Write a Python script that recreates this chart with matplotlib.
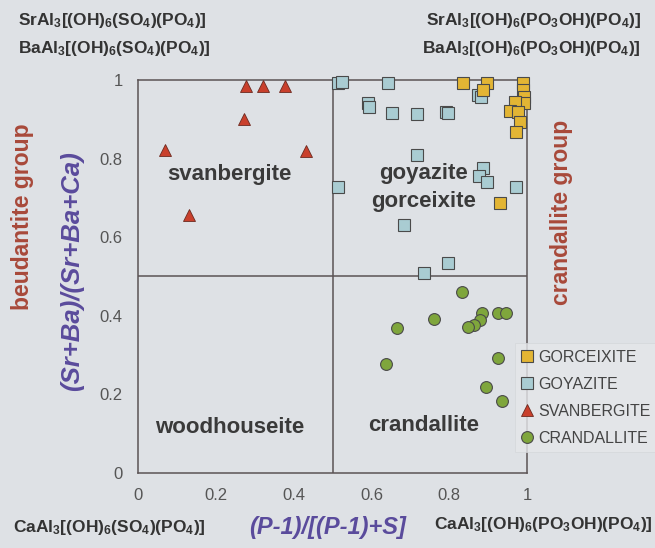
import matplotlib
matplotlib.use('Agg')
import matplotlib.pyplot as plt

plt.rcParams['font.family'] = ['Liberation Sans', 'DejaVu Sans']
plt.rcParams['mathtext.fontset'] = 'custom'
plt.rcParams['mathtext.rm'] = 'Liberation Sans:bold'
plt.rcParams['mathtext.bf'] = 'Liberation Sans:bold'
plt.rcParams['mathtext.default'] = 'bf'

# data: x = (P-1)/[(P-1)+S], y = (Sr+Ba)/(Sr+Ba+Ca)
gorc_x = [0.835, 0.897, 0.887, 0.990, 0.990, 0.992, 0.992, 0.969, 0.956, 0.977, 0.982, 0.972, 0.931]
gorc_y = [0.992, 0.992, 0.975, 0.992, 0.975, 0.957, 0.941, 0.944, 0.921, 0.919, 0.893, 0.868, 0.687]

goy_x = [0.514, 0.524, 0.643, 0.591, 0.594, 0.653, 0.717, 0.792, 0.797, 0.874, 0.882,
         0.717, 0.887, 0.877, 0.897, 0.972, 0.514, 0.684, 0.797, 0.735]
goy_y = [0.992, 0.995, 0.992, 0.941, 0.931, 0.916, 0.913, 0.918, 0.916, 0.962, 0.957,
         0.809, 0.776, 0.756, 0.740, 0.728, 0.728, 0.631, 0.534, 0.509]

svan_x = [0.278, 0.321, 0.378, 0.272, 0.069, 0.432, 0.131]
svan_y = [0.985, 0.985, 0.985, 0.900, 0.822, 0.820, 0.657]

cran_x = [0.833, 0.761, 0.666, 0.884, 0.879, 0.864, 0.848, 0.925, 0.946, 0.638, 0.925, 0.895, 0.936]
cran_y = [0.461, 0.392, 0.369, 0.407, 0.389, 0.377, 0.372, 0.407, 0.407, 0.277, 0.293, 0.219, 0.183]

ticks = [0, 0.2, 0.4, 0.6, 0.8, 1]
tick_labels = ['0', '0.2', '0.4', '0.6', '0.8', '1']

bg = '#dee1e5'
line_col = '#5b5355'
edge = '#4a4a4a'

fig = plt.figure(figsize=(6.55, 5.48), dpi=100, facecolor=bg)
ax = fig.add_axes([0.2107, 0.1369, 0.5939, 0.7171])
ax.set_facecolor(bg)

ax.plot(gorc_x, gorc_y, 's', ms=8, mfc='#e3b534', mec=edge, mew=0.8,
        label='GORCEIXITE', clip_on=False, zorder=4)
ax.plot(goy_x, goy_y, 's', ms=8, mfc='#a9ccd2', mec=edge, mew=0.8,
        label='GOYAZITE', clip_on=False, zorder=3)
ax.plot(svan_x, svan_y, '^', ms=9, mfc='#c9402c', mec='#6b2a20', mew=0.6,
        label='SVANBERGITE', clip_on=False, zorder=3)
ax.plot(cran_x, cran_y, 'o', ms=8.5, mfc='#7fa63c', mec=edge, mew=0.8,
        label='CRANDALLITE', clip_on=False, zorder=3)

ax.axvline(0.5, color=line_col, lw=1.1, zorder=1)
ax.axhline(0.5, color=line_col, lw=1.1, zorder=1)

ax.set_xlim(0, 1)
ax.set_ylim(0, 1)
ax.set_xticks(ticks)
ax.set_xticklabels(tick_labels)
ax.set_yticks(ticks)
ax.set_yticklabels(tick_labels)
ax.tick_params(length=0, labelsize=12, labelcolor='#555555', pad=11)
ax.tick_params(axis='y', pad=11)
for s in ax.spines.values():
    s.set_color(line_col)
    s.set_linewidth(1.1)

field_kw = dict(fontsize=16, fontweight='bold', color='#3a3a3a', ha='center', va='center')
ax.text(0.235, 0.76, 'svanbergite', **field_kw)
ax.text(0.735, 0.762, 'goyazite', **field_kw)
ax.text(0.735, 0.69, 'gorceixite', **field_kw)
ax.text(0.235, 0.115, 'woodhouseite', **field_kw)
ax.text(0.735, 0.12, 'crandallite', **field_kw)

lab_col = '#5a4b9c'
fig.text(0.11, 0.505, '(Sr+Ba)/(Sr+Ba+Ca)', rotation=90, fontsize=18.5, fontweight='bold',
         fontstyle='italic', color=lab_col, ha='center', va='center')
fig.text(0.50, 0.038, '(P-1)/[(P-1)+S]', fontsize=17, fontweight='bold',
         fontstyle='italic', color=lab_col, ha='center', va='center')

grp_col = '#a8493a'
fig.text(0.034, 0.605, 'beudantite group', rotation=90, fontsize=16.5, fontweight='bold',
         color=grp_col, ha='center', va='center')
fig.text(0.858, 0.613, 'crandallite group', rotation=90, fontsize=16.5, fontweight='bold',
         color=grp_col, ha='center', va='center')

f_kw = dict(fontsize=12.5, fontweight='bold', color='#333333', va='center')
fig.text(0.027, 0.963, r'SrAl$_3$[(OH)$_6$(SO$_4$)(PO$_4$)]', ha='left', **f_kw)
fig.text(0.027, 0.912, r'BaAl$_3$[(OH)$_6$(SO$_4$)(PO$_4$)]', ha='left', **f_kw)
fig.text(0.978, 0.963, r'SrAl$_3$[(OH)$_6$(PO$_3$OH)(PO$_4$)]', ha='right', **f_kw)
fig.text(0.978, 0.912, r'BaAl$_3$[(OH)$_6$(PO$_3$OH)(PO$_4$)]', ha='right', **f_kw)
fig.text(0.02, 0.038, r'CaAl$_3$[(OH)$_6$(SO$_4$)(PO$_4$)]', ha='left', **f_kw)
fig.text(0.997, 0.043, r'CaAl$_3$[(OH)$_6$(PO$_3$OH)(PO$_4$)]', ha='right', **f_kw)

leg = ax.legend(loc='upper left', bbox_to_anchor=(0.968, 0.33), frameon=True, fontsize=11.5,
                handlelength=0.8, handletextpad=0.3, labelspacing=0.75, borderpad=0.4,
                fancybox=False, borderaxespad=0)
leg.get_frame().set_facecolor('#e5e7ea')
leg.get_frame().set_edgecolor('#d4d6da')
leg.get_frame().set_linewidth(0.6)
for t in leg.get_texts():
    t.set_color('#444444')

plt.savefig('out.png', dpi=100, facecolor=bg)
